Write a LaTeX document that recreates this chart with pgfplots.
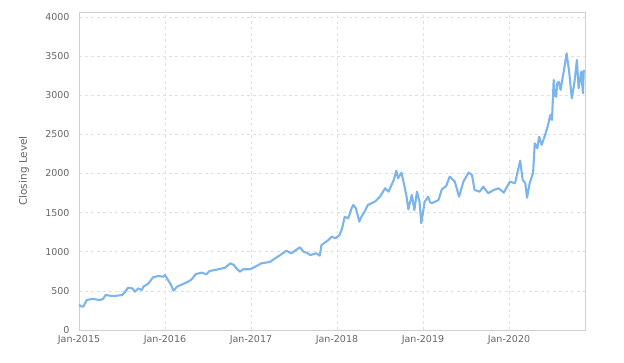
\documentclass[border=0pt]{standalone}
\usepackage{pgfplots}
\pgfplotsset{compat=1.18}
\usepackage{fontspec}
\setmainfont{DejaVu Sans}
\definecolor{hcblue}{HTML}{7CB5EC}
\definecolor{gridc}{HTML}{E0E0E0}
\definecolor{framec}{HTML}{CCD0DA}
\definecolor{labc}{HTML}{666666}
\begin{document}
\begin{tikzpicture}
\useasboundingbox (0,0) rectangle (624pt,362pt);
\begin{axis}[
  at={(79pt,32pt)}, anchor=south west,
  scale only axis, width=506pt, height=318pt,
  xmin=2015, xmax=2020.884, ymin=0, ymax=4064,
  xtick={2015,2016,2017,2018,2019,2020},
  xticklabels={Jan-2015,Jan-2016,Jan-2017,Jan-2018,Jan-2019,Jan-2020},
  ytick={0,500,1000,1500,2000,2500,3000,3500,4000},
  /pgf/number format/assume math mode=true,
  yticklabel style={/pgf/number format/fixed,/pgf/number format/1000 sep={}},
  grid=major,
  major grid style={gridc, dashed, line width=0.6pt},
  axis line style={framec, line width=0.8pt},
  tick style={draw=none},
  ticklabel style={font=\fontsize{9.5}{11}\selectfont, text=labc},
  xticklabel style={yshift=-2pt},
  yticklabel style={xshift=-6pt},
  ylabel={Closing Level},
  ylabel style={font=\fontsize{10.5}{12}\selectfont, text=labc, at={(-55pt,0.5)}, anchor=center},
  clip=false,
]
\addplot[hcblue, line width=2.1pt, line join=round] coordinates {
(2015.00,320) (2015.03,300) (2015.05,298) (2015.07,340) (2015.09,383) (2015.13,392) (2015.17,396) (2015.21,388) (2015.24,383) (2015.28,396) (2015.31,447) (2015.35,440) (2015.40,434) (2015.45,440) (2015.50,447) (2015.53,477) (2015.57,541) (2015.62,532) (2015.65,490) (2015.69,532) (2015.73,511) (2015.75,554) (2015.81,597) (2015.86,673) (2015.92,690) (2015.98,681) (2016.00,703) (2016.04,630) (2016.06,597) (2016.10,502) (2016.14,554) (2016.21,588) (2016.27,617) (2016.31,648) (2016.36,716) (2016.43,733) (2016.48,711) (2016.52,754) (2016.62,776) (2016.70,797) (2016.76,852) (2016.80,831) (2016.83,788) (2016.87,745) (2016.91,776) (2016.99,776) (2017.05,809) (2017.12,852) (2017.22,870) (2017.28,915) (2017.34,958) (2017.41,1013) (2017.47,980) (2017.52,1020) (2017.57,1057) (2017.61,1001) (2017.65,985) (2017.69,958) (2017.76,980) (2017.80,950) (2017.82,1086) (2017.90,1150) (2017.94,1193) (2017.98,1172) (2018.03,1214) (2018.06,1300) (2018.09,1448) (2018.13,1427) (2018.17,1555) (2018.19,1598) (2018.22,1555) (2018.26,1385) (2018.28,1440) (2018.31,1491) (2018.36,1598) (2018.44,1640) (2018.50,1704) (2018.56,1811) (2018.60,1768) (2018.66,1917) (2018.69,2036) (2018.71,1939) (2018.75,2011) (2018.79,1811) (2018.81,1700) (2018.83,1542) (2018.87,1726) (2018.90,1534) (2018.93,1768) (2018.96,1640) (2018.98,1364) (2019.02,1640) (2019.06,1704) (2019.08,1640) (2019.10,1619) (2019.14,1640) (2019.18,1661) (2019.22,1798) (2019.27,1840) (2019.31,1960) (2019.37,1896) (2019.42,1704) (2019.47,1896) (2019.53,2011) (2019.57,1981) (2019.60,1789) (2019.66,1768) (2019.70,1832) (2019.76,1747) (2019.82,1789) (2019.88,1811) (2019.94,1755) (2020.01,1896) (2020.07,1875) (2020.13,2164) (2020.16,1917) (2020.19,1875) (2020.21,1691) (2020.24,1875) (2020.28,2003) (2020.30,2386) (2020.33,2322) (2020.35,2471) (2020.38,2365) (2020.42,2492) (2020.45,2599) (2020.48,2748) (2020.50,2684) (2020.52,3195) (2020.53,3000) (2020.55,2982) (2020.56,3150) (2020.58,3174) (2020.60,3067) (2020.62,3200) (2020.64,3323) (2020.67,3536) (2020.70,3301) (2020.73,2961) (2020.76,3153) (2020.79,3451) (2020.81,3088) (2020.84,3301) (2020.86,3025) (2020.87,3323)
};
\end{axis}
\end{tikzpicture}
\end{document}
